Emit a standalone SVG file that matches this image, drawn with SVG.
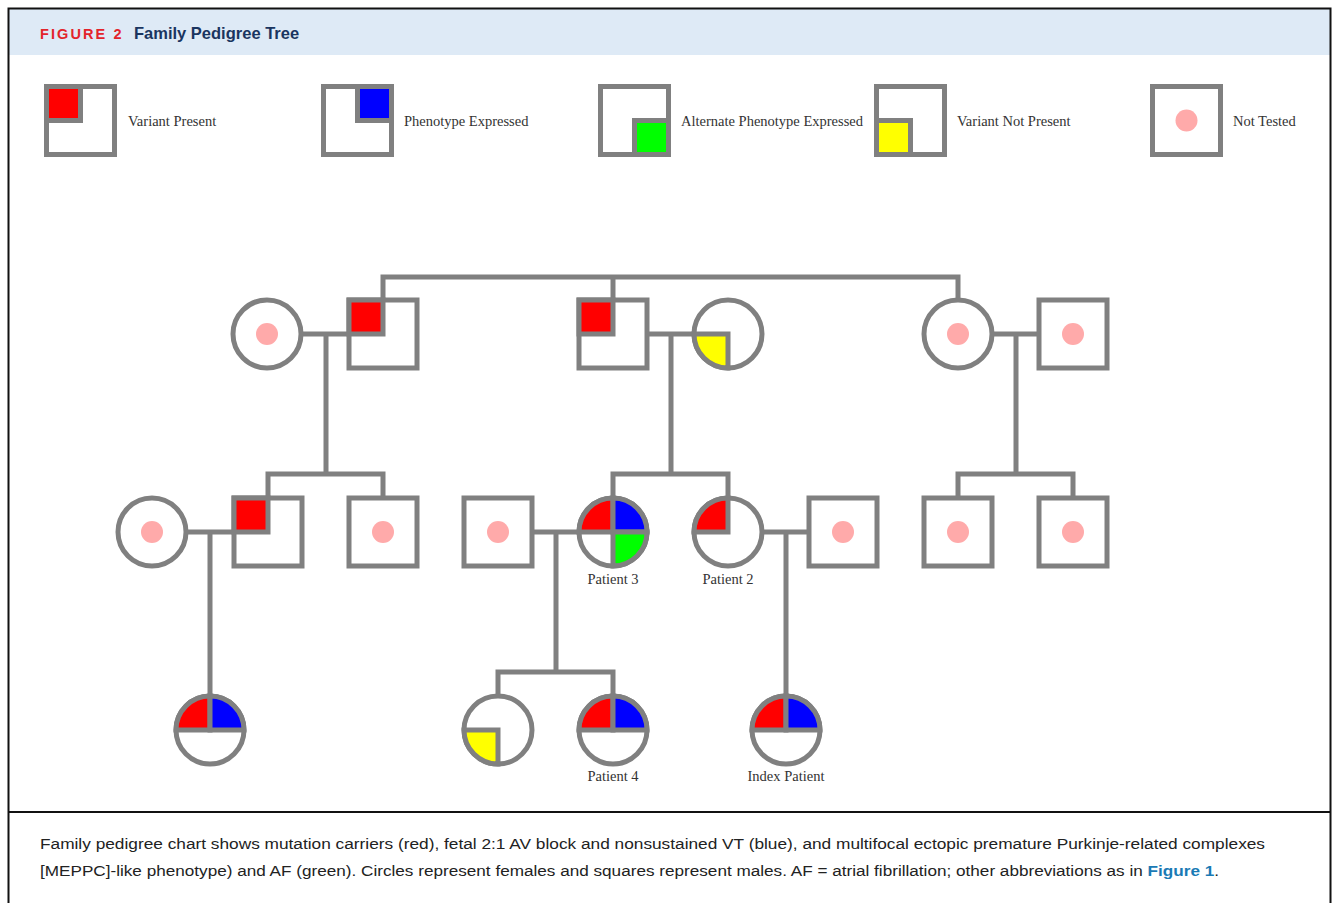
<svg xmlns="http://www.w3.org/2000/svg" width="1336" height="903" viewBox="0 0 1336 903">
<style>
.ln{stroke:#808080;stroke-width:5;fill:none;stroke-linecap:butt;stroke-linejoin:miter}
.nd{stroke:#808080;stroke-width:5;fill:#fff}
.q{stroke:#808080;stroke-width:5;stroke-linejoin:miter}
.r{fill:#ff0000}.b{fill:#0000ff}.g{fill:#00ff00}.y{fill:#ffff00}
.dot{fill:#ffaaaa}
.lg{font-family:"Liberation Serif","Times New Roman",serif;font-size:14.5px;fill:#333}
.lab{font-family:"Liberation Serif","Times New Roman",serif;font-size:14.5px;fill:#333;text-anchor:middle}
.cap{font-family:"Liberation Sans",Arial,sans-serif;font-size:15.5px;fill:#222}
</style>
<rect x="0" y="0" width="1336" height="903" fill="#fff"/>
<rect x="9" y="9" width="1322" height="46" fill="#deeaf6"/>
<rect x="8.5" y="8.5" width="1322" height="910" fill="none" stroke="#111" stroke-width="2"/>
<line x1="8" y1="812" x2="1331" y2="812" stroke="#111" stroke-width="2"/>
<text x="40" y="39" font-family="Liberation Sans,Arial,sans-serif" font-weight="bold" font-size="14.5" letter-spacing="2.1" fill="#e3242b">FIGURE 2</text>
<text x="134" y="39" font-family="Liberation Sans,Arial,sans-serif" font-weight="bold" font-size="16.5" fill="#1a3560">Family Pedigree Tree</text>

<g id="legend">
<g id="lg-variant-present"><rect class="nd" x="46.5" y="86.5" width="68" height="68"/><rect class="q r" x="46.5" y="86.5" width="34" height="34"/><text class="lg" x="128" y="126">Variant Present</text></g>
<g id="lg-phenotype"><rect class="nd" x="323.5" y="86.5" width="68" height="68"/><rect class="q b" x="357.5" y="86.5" width="34" height="34"/><text class="lg" x="404" y="126">Phenotype Expressed</text></g>
<g id="lg-alt-phenotype"><rect class="nd" x="600.5" y="86.5" width="68" height="68"/><rect class="q g" x="634.5" y="120.5" width="34" height="34"/><text class="lg" x="681" y="126">Alternate Phenotype Expressed</text></g>
<g id="lg-variant-not-present"><rect class="nd" x="876.5" y="86.5" width="68" height="68"/><rect class="q y" x="876.5" y="120.5" width="34" height="34"/><text class="lg" x="957" y="126">Variant Not Present</text></g>
<g id="lg-not-tested"><rect class="nd" x="1152.5" y="86.5" width="68" height="68"/><circle class="dot" cx="1186.5" cy="120.5" r="11"/><text class="lg" x="1233" y="126">Not Tested</text></g>
</g>

<g id="connectors">
<polyline class="ln" points="383,301 383,277 958,277 958,301"/>
<line class="ln" x1="613" y1="277" x2="613" y2="301"/>
<line class="ln" x1="300" y1="334" x2="350" y2="334"/>
<line class="ln" x1="326" y1="334" x2="326" y2="474"/>
<polyline class="ln" points="268,499 268,474 383,474 383,499"/>
<line class="ln" x1="647" y1="334" x2="695" y2="334"/>
<line class="ln" x1="671" y1="334" x2="671" y2="474"/>
<polyline class="ln" points="613,499 613,474 728,474 728,499"/>
<line class="ln" x1="991" y1="334" x2="1040" y2="334"/>
<line class="ln" x1="1016" y1="334" x2="1016" y2="474"/>
<polyline class="ln" points="958,499 958,474 1073,474 1073,499"/>
<line class="ln" x1="186" y1="532" x2="235" y2="532"/>
<line class="ln" x1="210" y1="532" x2="210" y2="697"/>
<line class="ln" x1="531" y1="532" x2="580" y2="532"/>
<line class="ln" x1="556" y1="532" x2="556" y2="672"/>
<polyline class="ln" points="498,697 498,672 613,672 613,697"/>
<line class="ln" x1="761" y1="532" x2="810" y2="532"/>
<line class="ln" x1="786" y1="532" x2="786" y2="697"/>
</g>

<g id="g1-f1"><circle class="nd" cx="267" cy="334" r="34"/><circle class="dot" cx="267" cy="334" r="11"/></g>
<g id="g1-m1"><rect class="nd" x="349" y="300" width="68" height="68"/><rect class="q r" x="349" y="300" width="34" height="34"/></g>
<g id="g1-m2"><rect class="nd" x="579" y="300" width="68" height="68"/><rect class="q r" x="579" y="300" width="34" height="34"/></g>
<g id="g1-f2"><circle class="nd" cx="728" cy="334" r="34"/><path class="q y" d="M728,334 L728,368 A34,34 0 0 1 694,334 Z"/></g>
<g id="g1-f3"><circle class="nd" cx="958" cy="334" r="34"/><circle class="dot" cx="958" cy="334" r="11"/></g>
<g id="g1-m3"><rect class="nd" x="1039" y="300" width="68" height="68"/><circle class="dot" cx="1073" cy="334" r="11"/></g>

<g id="g2-f1"><circle class="nd" cx="152" cy="532" r="34"/><circle class="dot" cx="152" cy="532" r="11"/></g>
<g id="g2-m1"><rect class="nd" x="234" y="498" width="68" height="68"/><rect class="q r" x="234" y="498" width="34" height="34"/></g>
<g id="g2-m2"><rect class="nd" x="349" y="498" width="68" height="68"/><circle class="dot" cx="383" cy="532" r="11"/></g>
<g id="g2-m3"><rect class="nd" x="464" y="498" width="68" height="68"/><circle class="dot" cx="498" cy="532" r="11"/></g>
<g id="patient-3"><circle class="nd" cx="613" cy="532" r="34"/>
<path class="q r" d="M613,532 L579,532 A34,34 0 0 1 613,498 Z"/>
<path class="q b" d="M613,532 L613,498 A34,34 0 0 1 647,532 Z"/>
<path class="q g" d="M613,532 L647,532 A34,34 0 0 1 613,566 Z"/>
<text class="lab" x="613" y="584">Patient 3</text></g>
<g id="patient-2"><circle class="nd" cx="728" cy="532" r="34"/>
<path class="q r" d="M728,532 L694,532 A34,34 0 0 1 728,498 Z"/>
<text class="lab" x="728" y="584">Patient 2</text></g>
<g id="g2-m4"><rect class="nd" x="809" y="498" width="68" height="68"/><circle class="dot" cx="843" cy="532" r="11"/></g>
<g id="g2-m5"><rect class="nd" x="924" y="498" width="68" height="68"/><circle class="dot" cx="958" cy="532" r="11"/></g>
<g id="g2-m6"><rect class="nd" x="1039" y="498" width="68" height="68"/><circle class="dot" cx="1073" cy="532" r="11"/></g>

<g id="g3-f1"><circle class="nd" cx="210" cy="730" r="34"/>
<path class="q r" d="M210,730 L176,730 A34,34 0 0 1 210,696 Z"/>
<path class="q b" d="M210,730 L210,696 A34,34 0 0 1 244,730 Z"/></g>
<g id="g3-f2"><circle class="nd" cx="498" cy="730" r="34"/><path class="q y" d="M498,730 L498,764 A34,34 0 0 1 464,730 Z"/></g>
<g id="patient-4"><circle class="nd" cx="613" cy="730" r="34"/>
<path class="q r" d="M613,730 L579,730 A34,34 0 0 1 613,696 Z"/>
<path class="q b" d="M613,730 L613,696 A34,34 0 0 1 647,730 Z"/>
<text class="lab" x="613" y="781">Patient 4</text></g>
<g id="index-patient"><circle class="nd" cx="786" cy="730" r="34"/>
<path class="q r" d="M786,730 L752,730 A34,34 0 0 1 786,696 Z"/>
<path class="q b" d="M786,730 L786,696 A34,34 0 0 1 820,730 Z"/>
<text class="lab" x="786" y="781">Index Patient</text></g>

<text class="cap" x="40" y="849" textLength="1225" lengthAdjust="spacingAndGlyphs">Family pedigree chart shows mutation carriers (red), fetal 2:1 AV block and nonsustained VT (blue), and multifocal ectopic premature Purkinje-related complexes</text>
<text class="cap" x="40" y="876" textLength="1179" lengthAdjust="spacingAndGlyphs">[MEPPC]-like phenotype) and AF (green). Circles represent females and squares represent males. AF = atrial fibrillation; other abbreviations as in <tspan font-weight="bold" fill="#1a7ab5">Figure 1</tspan>.</text>
</svg>
